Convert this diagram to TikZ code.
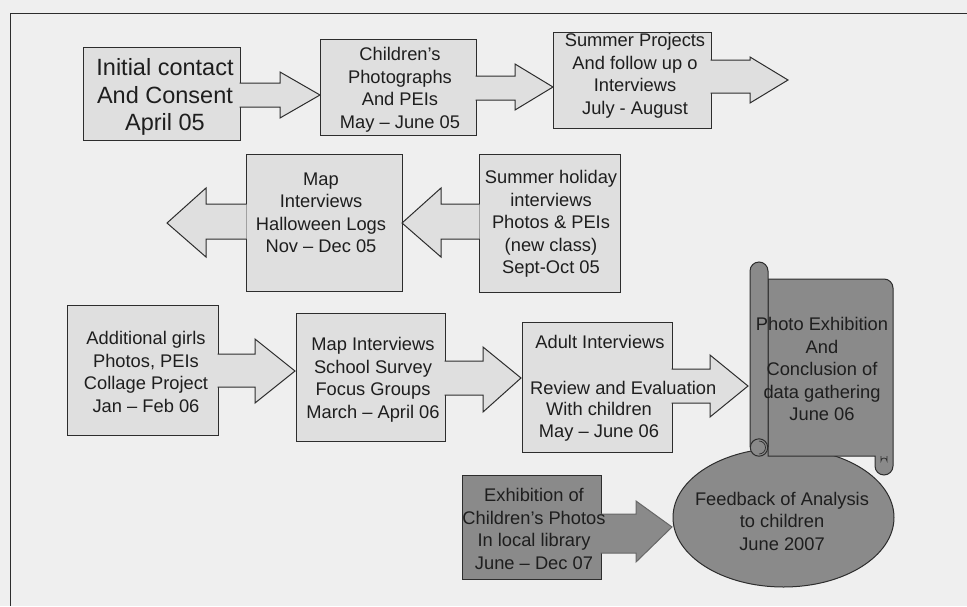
\documentclass[tikz,border=0pt]{standalone}
\usepackage{fontspec}
\setmainfont{Liberation Sans}
\usetikzlibrary{shapes.geometric}
\definecolor{bgC}{RGB}{239,239,239}
\definecolor{lightC}{RGB}{223,223,223}
\definecolor{darkC}{RGB}{138,138,138}
\definecolor{lineC}{RGB}{45,45,45}
\definecolor{textC}{RGB}{30,30,30}
\begin{document}
\begin{tikzpicture}[x=1pt,y=-1pt,
  lbox/.style={draw=lineC,fill=lightC,line width=1pt,rectangle,inner sep=0pt,anchor=north west},
  dbox/.style={draw=lineC,fill=darkC,line width=1pt},
  larrow/.style={draw=lineC,fill=lightC,line width=1pt,line join=miter},
  darrow/.style={draw=darkC!75!black,fill=darkC,line width=1pt,line join=miter},
  txt/.style={align=center,font=\fontsize{18.3pt}{22.5pt}\selectfont,text=textC,inner sep=0pt},
  bigtxt/.style={align=center,font=\fontsize{23.5pt}{27.5pt}\selectfont,text=textC,inner sep=0pt},
  frameline/.style={draw=lineC,line width=1pt}]
\useasboundingbox[fill=bgC] (0,0) rectangle (967,606);
% frame
\coordinate (fc) at (10,13);
\draw[frameline] (10,606) -- (fc) -- (967,13);
% boxes
\node[lbox,minimum width=157pt,minimum height=93pt] (b1) at (83,47) {};
\node[lbox,minimum width=156pt,minimum height=96pt] (b2) at (320,39) {};
\node[lbox,minimum width=158pt,minimum height=96pt] (b3) at (553,32) {};
\node[lbox,minimum width=156pt,minimum height=137pt] (b4) at (246,154) {};
\node[lbox,minimum width=141pt,minimum height=138pt] (b5) at (479,154) {};
\node[lbox,minimum width=151pt,minimum height=130pt] (b6) at (67,305) {};
\node[lbox,minimum width=149pt,minimum height=128pt] (b7) at (296,313) {};
\node[lbox,minimum width=150pt,minimum height=130pt] (b8) at (522,322) {};
\node[lbox,dbox,minimum width=139pt,minimum height=104pt] (b10) at (462,475) {};
% ellipse (behind scroll)
\node[dbox,ellipse,minimum width=221pt,minimum height=139pt,inner sep=0pt] (el) at (783.5,517.5) {};
% scroll
\coordinate (sc) at (822,369);
\path[dbox] (768,279) -- (884,279) arc[start angle=-90,end angle=0,radius=9]
  -- (893,466) arc[start angle=0,end angle=180,radius=9] -- (875,456) -- (768,456) -- cycle;
\draw[lineC,line width=0.7pt] (881,456) -- (881,461) arc[start angle=180,end angle=360,radius=3] -- (887,456);
\path[dbox] (750,447) -- (750,271) arc[start angle=180,end angle=360,radius=9] -- (768,447);
\path[dbox] (759,447.5) circle[radius=8.7];
\draw[lineC,line width=0.7pt] (759,441) arc[start angle=-90,end angle=90,radius=6.5];
% block arrows
\path[larrow] (239.5,107) -- (280,107) -- (280,118) -- (320,95) -- (280,72) -- (280,83) -- (239.5,83);
\path[larrow] (475.5,100) -- (515,100) -- (515,110) -- (553,87) -- (515,64) -- (515,76) -- (475.5,76);
\path[larrow] (710.5,93) -- (750,93) -- (750,103) -- (788,80) -- (750,57) -- (750,60) -- (710.5,60);
\path[larrow] (246.5,204) -- (206,204) -- (206,188) -- (167,223) -- (206,257) -- (206,239) -- (246.5,239);
\path[larrow] (479.5,204) -- (441,204) -- (441,188) -- (402,223) -- (441,257) -- (441,239) -- (479.5,239);
\path[larrow] (217.5,387) -- (255,387) -- (255,403) -- (295,371) -- (255,339) -- (255,354) -- (217.5,354);
\path[larrow] (444.5,395) -- (483,395) -- (483,412) -- (521,378) -- (483,347) -- (483,361) -- (444.5,361);
\path[larrow] (671.5,403) -- (710,403) -- (710,417) -- (748,386) -- (710,355) -- (710,369) -- (671.5,369);
\path[darrow] (600.5,553) -- (636,553) -- (636,562) -- (672,527) -- (636,501) -- (636,514) -- (600.5,514);
% texts
\node[bigtxt] (t1) at (165,97) {Initial contact\\And Consent\\April 05};
\node[txt] (t2) at (400,90) {Children’s\\Photographs\\And PEIs\\May – June 05};
\node[txt] (t3) at (635,76) {Summer Projects\\And follow up o\\Interviews\\July - August};
\node[txt] (t4) at (321,213) {Map\\Interviews\\Halloween Logs\\Nov – Dec 05};
\node[txt] (t5) at (551,224) {Summer holiday\\interviews\\Photos \& PEIs\\(new class)\\Sept-Oct 05};
\node[txt] (t6) at (146,372) {Additional girls\\Photos, PEIs\\Collage Project\\Jan – Feb 06};
\node[txt] (t7) at (373,380) {Map Interviews\\School Survey\\Focus Groups\\March – April 06};
\node[txt] (t8a) at (600,342) {Adult Interviews};
\node[txt,anchor=west] (t8b) at (530,388) {Review and Evaluation};
\node[txt] (t8c) at (599,422) {With children\\May – June 06};
\node[txt] (t9) at (sc) {Photo Exhibition\\And\\Conclusion of\\data gathering\\June 06};
\node[txt] (t11) at (782,521) {Feedback of Analysis\\to children\\June 2007};
\node[txt] (t10) at (534,529) {Exhibition of\\Children’s Photos\\In local library\\June – Dec 07};
\end{tikzpicture}
\end{document}
